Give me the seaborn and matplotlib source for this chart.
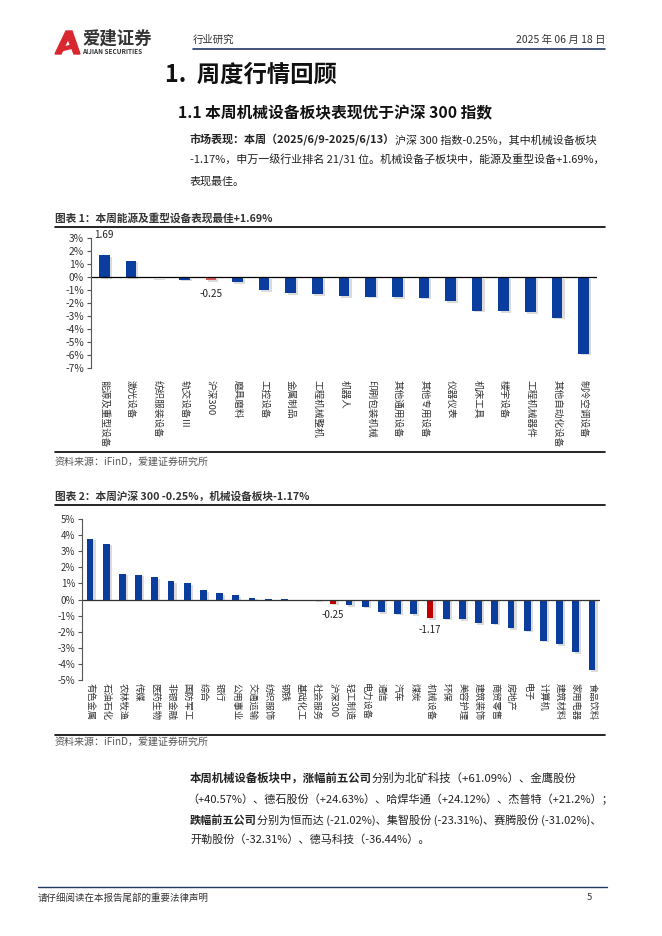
import matplotlib
matplotlib.use("Agg")
import matplotlib.pyplot as plt
import matplotlib.patheffects as pe
from matplotlib.patches import Polygon
import seaborn as sns

# ---- 数据 ----
cats1 = ["能源及重型设备", "激光设备", "纺织服装设备", "轨交设备Ⅲ", "沪深300", "磨具磨料",
         "工控设备", "金属制品", "工程机械整机", "机器人", "印刷包装机械", "其他通用设备",
         "其他专用设备", "仪器仪表", "机床工具", "楼宇设备", "工程机械器件",
         "其他自动化设备", "制冷空调设备"]
vals1 = [1.69, 1.25, -0.10, -0.20, -0.25, -0.40, -1.03, -1.26, -1.33, -1.46, -1.50,
         -1.55, -1.60, -1.85, -2.60, -2.65, -2.72, -3.13, -5.90]

cats2 = ["有色金属", "石油石化", "农林牧渔", "传媒", "医药生物", "非银金融", "国防军工",
         "综合", "银行", "公用事业", "交通运输", "纺织服饰", "钢铁", "基础化工", "社会服务",
         "沪深300", "轻工制造", "电力设备", "通信", "汽车", "煤炭", "机械设备", "环保",
         "美容护理", "建筑装饰", "商贸零售", "房地产", "电子", "计算机", "建筑材料",
         "家用电器", "食品饮料"]
vals2 = [3.78, 3.47, 1.61, 1.55, 1.40, 1.13, 1.01, 0.60, 0.39, 0.25, 0.12, 0.03, 0.02,
         -0.02, -0.05, -0.25, -0.35, -0.45, -0.80, -0.87, -0.93, -1.17, -1.20, -1.24,
         -1.45, -1.50, -1.80, -1.93, -2.55, -2.77, -3.27, -4.39]

BLUE = "#0B3D9E"
RED1 = "#E05A5A"
RED2 = "#C00000"
FONT = ["Noto Sans CJK SC", "DejaVu Sans"]

sns.set_theme(style="white")
plt.rcParams["font.family"] = FONT
plt.rcParams["axes.unicode_minus"] = False

W, H = 662, 936
fig = plt.figure(figsize=(W / 100, H / 100), dpi=100)
page = fig.add_axes([0, 0, 1, 1])
page.set_xlim(0, W)
page.set_ylim(H, 0)
page.axis("off")
renderer = fig.canvas.get_renderer()


def box(x0, y0, x1, y1):
    return [x0 / W, 1 - y1 / H, (x1 - x0) / W, (y1 - y0) / H]


def runs(x, y, parts, size, color="#222222"):
    # 逐段绘制粗体/常规混排文本
    for txt, bold in parts:
        t = page.text(x, y, txt, fontsize=size, color=color, va="center",
                      fontweight="bold" if bold else "normal")
        x += t.get_window_extent(renderer).width


# ---- 页眉 ----
page.add_patch(Polygon([(55, 54), (66, 31), (72, 31), (80, 54), (74, 54), (68, 39), (61, 54)],
                       closed=True, color="#D7282F"))
page.add_patch(Polygon([(60, 48), (76, 44), (77, 47), (61, 51)], closed=True, color="#D7282F"))
page.text(82, 39, "爱建证券", fontsize=12.5, fontweight="bold", color="#333333", va="center")
page.text(82, 51, "AIJIAN SECURITIES", fontsize=4.6, fontweight="bold", color="#333333", va="center")
page.text(193, 40, "行业研究", fontsize=7.5, color="#333333", va="center")
page.text(605, 40, "2025 年 06 月 18 日", fontsize=7.5, color="#333333", va="center", ha="right")
page.plot([193, 605], [49, 49], color="#1F3864", lw=1.2)

page.text(165, 75, "1.  周度行情回顾", fontsize=16.8, fontweight="bold", color="#111111", va="center")
page.text(178, 113, "1.1 本周机械设备板块表现优于沪深 300 指数", fontsize=11.3, fontweight="bold",
          color="#111111", va="center")

runs(190, 140, [("市场表现：本周（2025/6/9-2025/6/13）", True),
                ("沪深 300 指数-0.25%，其中机械设备板块", False)], 7.95)
runs(190, 160, [("-1.17%，申万一级行业排名 21/31 位。机械设备子板块中，能源及重型设备+1.69%，", False)], 7.95)
runs(190, 181, [("表现最佳。", False)], 7.95)

# ---- 图表 1 ----
page.text(55, 218, "图表 1：本周能源及重型设备表现最佳+1.69%", fontsize=7.7, fontweight="bold",
          color="#333333", va="center")
page.plot([55, 605], [227, 227], color="black", lw=1.2)

ax1 = fig.add_axes(box(91, 238, 597, 368))
sns.barplot(x=cats1, y=vals1, hue=cats1, legend=False, width=0.4, saturation=1, linewidth=0,
            palette=[RED1 if c == "沪深300" else BLUE for c in cats1], ax=ax1)
ax1.set_ylim(-7, 3)
ax1.set_yticks(range(-7, 4))
ax1.set_yticklabels([f"{v}%" for v in range(-7, 4)], fontsize=7.4, color="#333333")
ax1.set_xticks(range(len(cats1)))
ax1.set_xticklabels(cats1, rotation=-90, fontsize=6.9, color="#333333", va="top")
ax1.tick_params(axis="x", length=0, pad=9)
ax1.tick_params(axis="y", length=3, width=0.8, color="#555555", direction="out", left=True, pad=2)
ax1.axhline(0, color="black", lw=0.9)
i = cats1.index("沪深300")
ax1.annotate(f"{vals1[0]:.2f}", (0, vals1[0]), xytext=(0, 11), textcoords="offset points",
             ha="center", va="bottom", fontsize=7.2, color="#222222")
ax1.annotate(f"{vals1[i]:.2f}", (i, vals1[i]), xytext=(0, -6), textcoords="offset points",
             ha="center", va="top", fontsize=7.2, color="#222222")

# ---- 图表 2 ----
page.plot([55, 605], [452, 452], color="black", lw=1.2)
page.text(55, 462, "资料来源：iFinD，爱建证券研究所", fontsize=7.2, color="#555555", va="center")

page.text(55, 496, "图表 2：本周沪深 300 -0.25%，机械设备板块-1.17%", fontsize=7.7, fontweight="bold",
          color="#333333", va="center")
page.plot([55, 605], [505, 505], color="black", lw=1.2)

ax2 = fig.add_axes(box(82, 519, 600, 680))
sns.barplot(x=cats2, y=vals2, hue=cats2, legend=False, width=0.42, saturation=1, linewidth=0,
            palette=[RED2 if c in ("沪深300", "机械设备") else BLUE for c in cats2], ax=ax2)
ax2.set_ylim(-5, 5)
ax2.set_yticks(range(-5, 6))
ax2.set_yticklabels([f"{v}%" for v in range(-5, 6)], fontsize=7, color="#333333")
ax2.set_xticks(range(len(cats2)))
ax2.set_xticklabels(cats2, rotation=-90, fontsize=6.7, color="#333333", va="top")
ax2.tick_params(axis="x", length=0, pad=2)
ax2.tick_params(axis="y", length=3, width=0.8, color="#555555", direction="out", left=True, pad=2)
ax2.axhline(0, color="#333333", lw=0.9)
for c in ("沪深300", "机械设备"):
    j = cats2.index(c)
    ax2.annotate(f"{vals2[j]:.2f}", (j, vals2[j]), xytext=(0, -5), textcoords="offset points",
                 ha="center", va="top", fontsize=7, color="#222222")

for ax in (ax1, ax2):
    sns.despine(ax=ax, bottom=True)
    ax.spines["left"].set_color("#555555")
    ax.spines["left"].set_linewidth(0.8)
    ax.set_xlabel("")
    ax.set_ylabel("")
    ax.patch.set_alpha(0)
    for p in ax.patches:
        p.set_path_effects([pe.SimplePatchShadow(offset=(1.6, -1.2), shadow_rgbFace="#9a9a9a",
                                                 alpha=0.35), pe.Normal()])

page.plot([55, 605], [735, 735], color="black", lw=1.2)
page.text(55, 742, "资料来源：iFinD，爱建证券研究所", fontsize=7.2, color="#555555", va="center")

# ---- 正文 ----
runs(190, 778, [("本周机械设备板块中，涨幅前五公司", True),
                ("分别为北矿科技（+61.09%）、金鹰股份", False)], 8.2)
runs(187, 799, [("（+40.57%）、德石股份（+24.63%）、哈焊华通（+24.12%）、杰普特（+21.2%）；", False)], 8.0)
runs(190, 820, [("跌幅前五公司", True),
                ("分别为恒而达 (-21.02%)、集智股份 (-23.31%)、赛腾股份 (-31.02%)、", False)], 8.0)
runs(190, 840, [("开勒股份（-32.31%）、德马科技（-36.44%）。", False)], 8.0)

# ---- 页脚 ----
page.plot([38, 607], [887, 887], color="#1F3864", lw=1.0)
page.text(38, 898, "请仔细阅读在本报告尾部的重要法律声明", fontsize=6.8, color="#333333", va="center")
page.text(592, 898, "5", fontsize=6.8, color="#333333", va="center", ha="right")

fig.savefig("out.png", dpi=100)
